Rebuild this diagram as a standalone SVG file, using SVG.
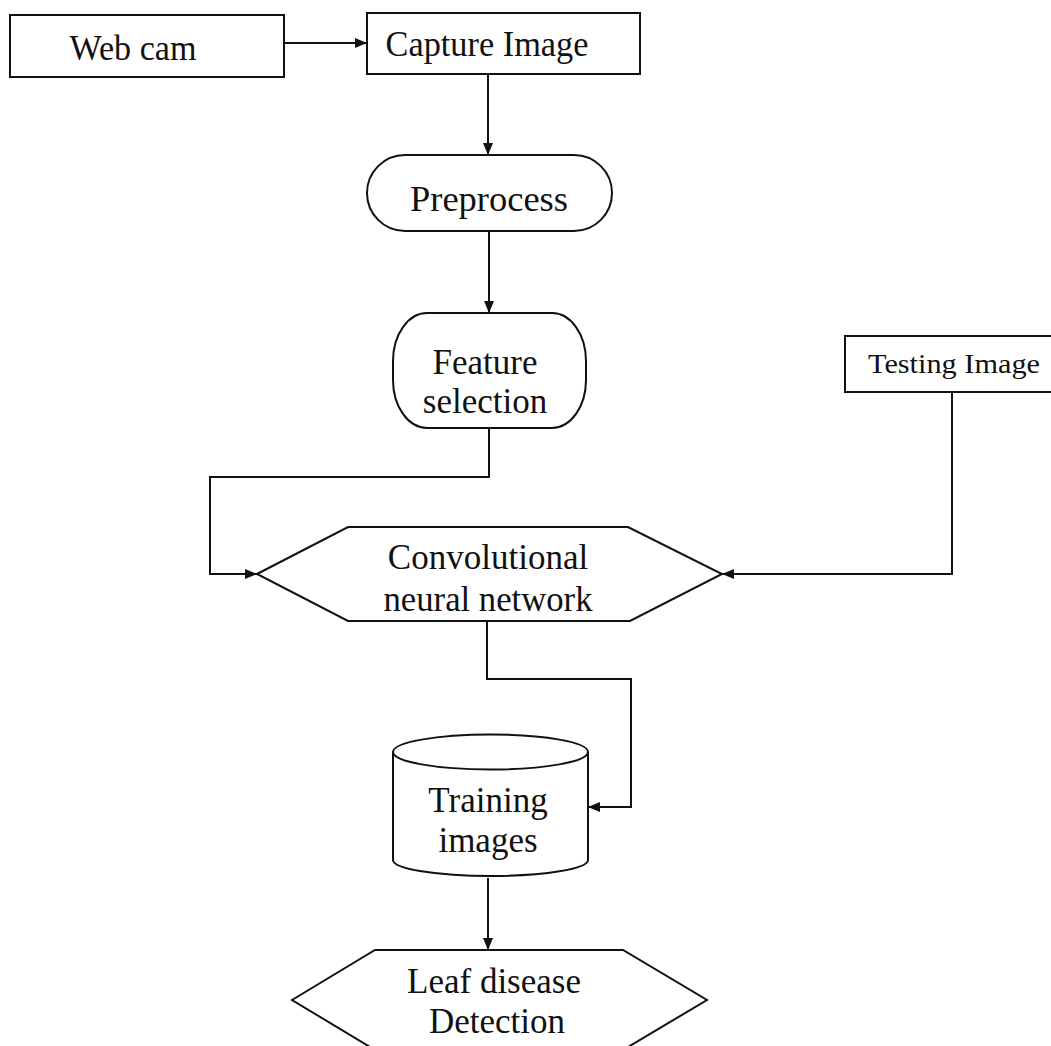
<svg xmlns="http://www.w3.org/2000/svg" width="1051" height="1046" viewBox="0 0 1051 1046">
<style>
.s{fill:#fff;stroke:#111;stroke-width:2}
.c{fill:none;stroke:#111;stroke-width:2}
.t{font-family:"Liberation Serif","Times New Roman",serif;font-size:35px;fill:#111;text-anchor:middle}
.t2{font-family:"Liberation Serif","Times New Roman",serif;font-size:28px;fill:#111;text-anchor:middle}
</style>
<defs>
<marker id="ah" markerWidth="12" markerHeight="10" refX="12" refY="5" orient="auto" markerUnits="userSpaceOnUse">
<path d="M0,0 L12,5 L0,10 Z" fill="#111"/>
</marker>
</defs>
<rect width="1051" height="1046" fill="#fff"/>
<g id="connectors">
<path class="c" d="M283,43 H367" marker-end="url(#ah)"/>
<path class="c" d="M488,74 V155" marker-end="url(#ah)"/>
<path class="c" d="M489,231 V313" marker-end="url(#ah)"/>
<path class="c" d="M489,428 V477 H210 V574 H257" marker-end="url(#ah)"/>
<path class="c" d="M952,392 V574 H722" marker-end="url(#ah)"/>
<path class="c" d="M487,621 V679 H631 V807 H588" marker-end="url(#ah)"/>
<path class="c" d="M488,878 V950" marker-end="url(#ah)"/>
</g>
<g id="webcam">
<rect class="s" x="10" y="15" width="274" height="62"/>
<text class="t" x="133" y="60" textLength="127" lengthAdjust="spacingAndGlyphs">Web cam</text>
</g>
<g id="capture">
<rect class="s" x="367" y="13" width="273" height="61"/>
<text class="t" x="487" y="56" textLength="203" lengthAdjust="spacingAndGlyphs">Capture Image</text>
</g>
<g id="preprocess">
<rect class="s" x="367" y="155" width="245" height="76" rx="38" ry="38"/>
<text class="t" x="489" y="211" textLength="158" lengthAdjust="spacingAndGlyphs">Preprocess</text>
</g>
<g id="feature">
<rect class="s" x="393" y="313" width="193" height="115" rx="34" ry="48"/>
<text class="t" x="485" y="374">Feature</text>
<text class="t" x="485" y="413">selection</text>
</g>
<g id="testing">
<rect class="s" x="845" y="336" width="210" height="56"/>
<text class="t2" x="954" y="373" textLength="172" lengthAdjust="spacingAndGlyphs">Testing Image</text>
</g>
<g id="cnn">
<polygon class="s" points="257,574 348,527 628,527 722,574 630,621 348,621"/>
<text class="t" x="488" y="569">Convolutional</text>
<text class="t" x="488" y="611" textLength="209" lengthAdjust="spacingAndGlyphs">neural network</text>
</g>
<g id="training">
<path class="s" d="M393,752 V860 A97.5,16 0 0 0 588,860 V752"/>
<ellipse class="s" cx="490.5" cy="752" rx="97.5" ry="17.5"/>
<text class="t" x="488" y="812">Training</text>
<text class="t" x="488" y="852">images</text>
</g>
<g id="leaf">
<polygon class="s" points="292,1000 375,950 623,950 707,1000 623,1050 375,1050"/>
<text class="t" x="494" y="993">Leaf disease</text>
<text class="t" x="497" y="1033">Detection</text>
</g>
</svg>
